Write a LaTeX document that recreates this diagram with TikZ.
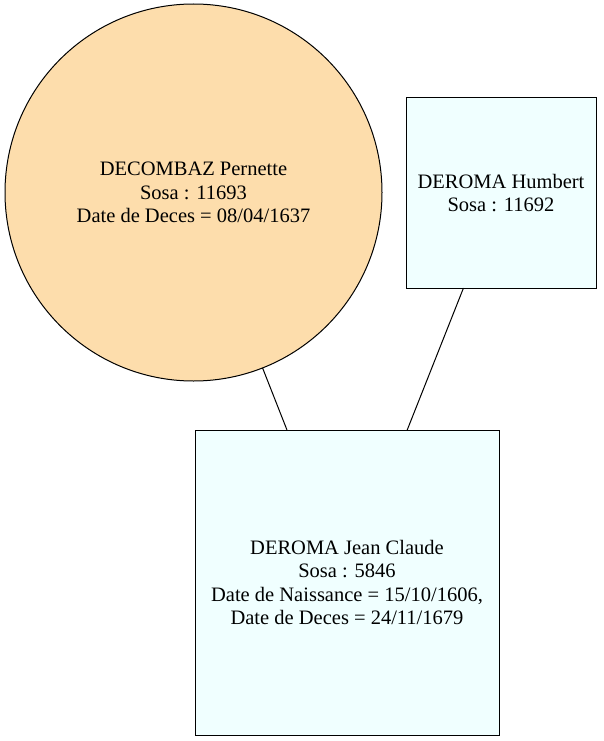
\documentclass[tikz,border=0pt]{standalone}
\usepackage{fontspec}
\setmainfont{Liberation Serif}
\begin{document}
\begin{tikzpicture}[x=1pt,y=-1pt,
  person/.style={draw=black,line width=1pt,inner sep=0pt,outer sep=0pt,align=center,
    font=\fontsize{20.5}{23.5}\selectfont},
  female/.style={person,circle,fill={rgb,255:red,253;green,221;blue,172},minimum size=377pt},
  male/.style={person,rectangle,fill={rgb,255:red,240;green,255;blue,255}},
  link/.style={draw=black,line width=1pt}]
\useasboundingbox (0,0) rectangle (603,741);
\node[female] (p) at (193.5,192.5) {DECOMBAZ Pernette\\Sosa : 11693\\Date de Deces = 08/04/1637};
\node[male,minimum width=190pt,minimum height=190pt] (h) at (501,193) {DEROMA Humbert\\Sosa : 11692};
\node[male,minimum width=304pt,minimum height=305pt] (j) at (347,582.5) {DEROMA Jean Claude\\Sosa : 5846\\Date de Naissance = 15/10/1606,\\Date de Deces = 24/11/1679};
\draw[link] (p) -- (j);
\draw[link] (h) -- (j);
\end{tikzpicture}
\end{document}
